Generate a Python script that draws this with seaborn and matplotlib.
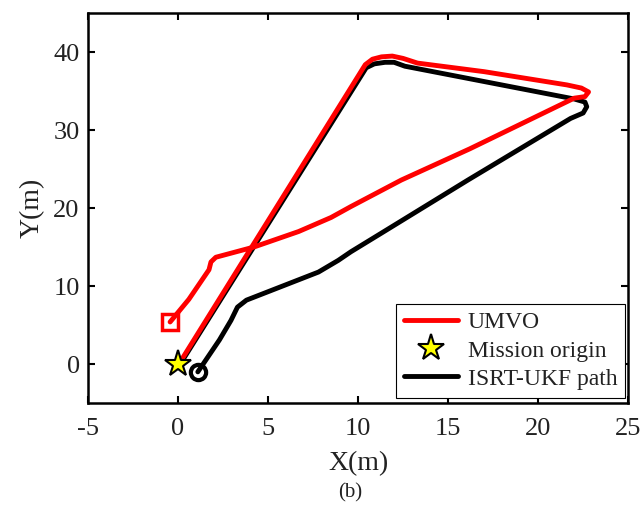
import matplotlib
matplotlib.use("Agg")
import matplotlib.pyplot as plt
import seaborn as sns
import pandas as pd
from matplotlib.lines import Line2D

# ---- data ----
umvo_x = [0.1, 10.4, 10.8, 11.3, 11.9, 12.5, 13.3, 17.0, 21.6, 22.4, 22.8, 22.6, 22.0,
          16.2, 12.4, 9.6, 8.5, 6.7, 4.2, 2.1, 1.83, 1.72, 0.6, -0.44]
umvo_y = [0.2, 38.4, 39.1, 39.4, 39.5, 39.2, 38.6, 37.5, 35.8, 35.4, 34.9, 34.3, 34.1,
          27.6, 23.6, 20.2, 18.8, 17.0, 15.0, 13.7, 13.1, 12.1, 8.3, 5.4]

ukf_x = [0.12, 10.45, 10.9, 11.5, 12.0, 12.6, 22.0, 22.6, 22.7, 22.5, 21.8,
         16.1, 11.3, 9.6, 8.9, 7.8, 3.8, 3.3, 2.94, 2.3, 1.1]
ukf_y = [0.0, 38.0, 38.5, 38.7, 38.7, 38.2, 34.0, 33.6, 33.0, 32.2, 31.5,
         23.6, 16.8, 14.4, 13.3, 11.8, 8.2, 7.3, 5.6, 3.1, -1.0]

origin_x = [0.0]
origin_y = [0.0]
umvo_end_x = [-0.44]
umvo_end_y = [5.4]
ukf_end_x = [1.1]
ukf_end_y = [-1.0]

x_ticks = [-5, 0, 5, 10, 15, 20, 25]
y_ticks = [0, 10, 20, 30, 40]
labels = ["UMVO", "Mission origin", "ISRT-UKF path"]

# ---- style ----
sns.set_style("ticks")
plt.rcParams["font.family"] = ["Liberation Serif", "DejaVu Serif"]
plt.rcParams["axes.unicode_minus"] = False

fig = plt.figure(figsize=(6.4, 5.07), dpi=100)
ax = fig.add_axes([0.1375, 0.205, 0.844, 0.769])

df_ukf = pd.DataFrame({"x": ukf_x, "y": ukf_y})
df_umvo = pd.DataFrame({"x": umvo_x, "y": umvo_y})

sns.lineplot(data=df_ukf, x="x", y="y", sort=False, estimator=None,
             color="black", lw=3.5, ax=ax, zorder=2)
sns.lineplot(data=df_umvo, x="x", y="y", sort=False, estimator=None,
             color="#ff0000", lw=3.5, ax=ax, zorder=3)

ax.plot(ukf_end_x, ukf_end_y, marker="o", ms=11, mfc="none", mec="black",
        mew=3, ls="none", zorder=4)
ax.plot(umvo_end_x, umvo_end_y, marker="s", ms=12, mfc="none", mec="#ff0000",
        mew=2.5, ls="none", zorder=4)
ax.plot(origin_x, origin_y, marker="*", ms=20, mfc="yellow", mec="black",
        mew=1.5, ls="none", zorder=5)

ax.set_xlim(-5, 25)
ax.set_ylim(-5, 45)
ax.set_xticks(x_ticks)
ax.set_yticks(y_ticks)
ax.tick_params(direction="in", length=5, width=1.5, top=True, right=True,
               labelsize=19, colors="black", labelcolor="#222222")
ax.tick_params(axis="x", pad=11)
ax.tick_params(axis="y", pad=6)
for s in ax.spines.values():
    s.set_linewidth(1.8)
    s.set_color("black")

ax.set_xlabel("X(m)", fontsize=20, color="#222222", labelpad=8)
ax.set_ylabel("Y(m)", fontsize=20, color="#222222", labelpad=6)

handles = [
    Line2D([], [], color="#ff0000", lw=3.5),
    Line2D([], [], marker="*", ms=20, mfc="yellow", mec="black", mew=1.5, ls="none"),
    Line2D([], [], color="black", lw=3.5),
]
leg = ax.legend(handles, labels, loc="lower right", bbox_to_anchor=(0.995, 0.013),
                borderaxespad=0, fontsize=17, frameon=True, fancybox=False,
                edgecolor="black", framealpha=1, handlelength=2.3,
                labelspacing=0.28, borderpad=0.35, handletextpad=0.4)
leg.get_frame().set_linewidth(0.8)
for t in leg.get_texts():
    t.set_color("#222222")

fig.text(0.547, 1 - 493 / 507, "(b)", ha="center", va="center", fontsize=15,
         color="#222222")

fig.savefig("out.png", dpi=100)
